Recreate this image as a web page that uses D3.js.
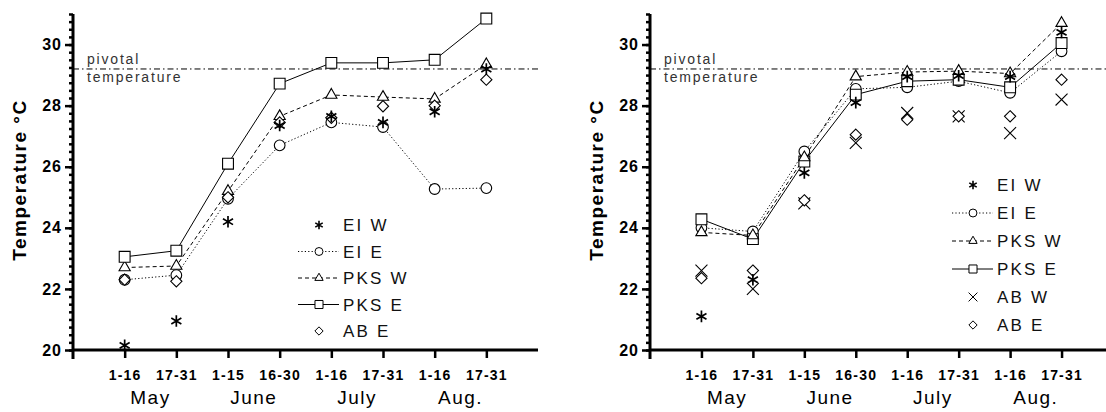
<!DOCTYPE html>
<html>
<head>
<meta charset="utf-8">
<script src="https://cdn.jsdelivr.net/npm/d3@7"></script>
<style>
  body { margin: 0; background: #fff; }
  svg { display: block; font-family: "Liberation Sans", Arial, sans-serif; }
</style>
</head>
<body>
<div id="chart"></div>
<script>
// half-month periods, May to August
const periods = ['1-16', '17-31', '1-15', '16-30', '1-16', '17-31', '1-16', '17-31'];
const months = ['May', 'June', 'July', 'Aug.'];
const yTicks = [20, 22, 24, 26, 28, 30];
const pivotalTemp = 29.2;

// left panel
const leftEIW  = [20.15, 20.95, 24.2, 27.35, 27.65, 27.45, 27.8, 29.2];
const leftEIE  = [22.3, 22.45, 24.95, 26.7, 27.45, 27.3, 25.27, 25.3];
const leftPKSW = [22.7, 22.75, 25.2, 27.65, 28.35, 28.28, 28.22, 29.35];
const leftPKSE = [23.05, 23.25, 26.1, 28.72, 29.4, 29.4, 29.5, 30.85];
const leftABE  = [22.3, 22.25, 25.0, 27.45, 27.6, 27.98, 28.0, 28.85];

// right panel
const rightEIW  = [21.1, 22.3, 25.8, 28.1, 28.95, 28.98, 28.95, 30.4];
const rightEIE  = [24.0, 23.88, 26.5, 28.55, 28.6, 28.8, 28.42, 29.78];
const rightPKSW = [23.85, 23.75, 26.3, 28.95, 29.1, 29.13, 29.05, 30.7];
const rightPKSE = [24.28, 23.63, 26.17, 28.36, 28.8, 28.85, 28.6, 30.05];
const rightABW  = [22.6, 22.0, 24.8, 26.78, 27.76, 27.65, 27.1, 28.2];
const rightABE  = [22.35, 22.6, 24.9, 27.05, 27.54, 27.65, 27.65, 28.85];

// marker + line style per site
const styles = {
  'EI W':  { symbol: d3.symbolAsterisk, size: 95, line: null },
  'EI E':  { symbol: d3.symbolCircle, size: 90, line: '1.2,2.2' },
  'PKS W': { symbol: d3.symbolTriangle2, size: 90, line: '4,3' },
  'PKS E': { symbol: d3.symbolSquare2, size: 150, line: '' },
  'AB W':  { symbol: d3.symbolX, size: 95, line: null },
  'AB E':  { symbol: d3.symbolDiamond2, size: 80, line: null }
};

const W = 1106, H = 412;
const svg = d3.select('#chart').append('svg')
  .attr('width', W).attr('height', H);

function drawPanel({ x0, x1, titleX, series, legend }) {
  const g = svg.append('g');
  const x = d3.scaleLinear().domain([0, 9]).range([x0, x1]);
  const y = d3.scaleLinear().domain([20, 31]).range([350, 14]);

  // pivotal temperature line
  g.append('line')
    .attr('x1', x0).attr('x2', Math.min(x1, W))
    .attr('y1', y(pivotalTemp)).attr('y2', y(pivotalTemp))
    .attr('stroke', '#000').attr('stroke-width', 1)
    .attr('stroke-dasharray', '6,3,1.5,3');
  g.append('text')
    .attr('x', x0 + 14).attr('y', y(pivotalTemp) - 5)
    .attr('font-size', 14).attr('letter-spacing', 1.8).attr('fill', '#333')
    .text('pivotal');
  g.append('text')
    .attr('x', x0 + 14).attr('y', y(pivotalTemp) + 13)
    .attr('font-size', 14).attr('letter-spacing', 1.8).attr('fill', '#333')
    .text('temperature');

  // series lines
  const line = d3.line().x((d, i) => x(i + 1)).y(d => y(d));
  series.forEach(s => {
    const st = styles[s.name];
    if (st.line === null) return;
    g.append('path')
      .attr('d', line(s.values))
      .attr('fill', 'none').attr('stroke', '#000').attr('stroke-width', 1)
      .attr('stroke-dasharray', st.line || null);
  });

  // markers
  series.forEach(s => {
    const st = styles[s.name];
    const sym = d3.symbol(st.symbol, st.size);
    g.append('g').selectAll('path')
      .data(s.values)
      .join('path')
      .attr('transform', (d, i) => `translate(${x(i + 1)},${y(d)})`)
      .attr('d', sym)
      .attr('fill', st.symbol === d3.symbolAsterisk ? 'none' : '#fff')
      .attr('stroke', '#000')
      .attr('stroke-width', st.symbol === d3.symbolAsterisk ? 1.7 : 1.1);
  });

  // y axis, minor ticks then major
  const minor = d3.range(20, 31.01, 0.25);
  g.append('g')
    .attr('transform', `translate(${x0},0)`)
    .call(d3.axisLeft(y).tickValues(minor).tickSize(4).tickSizeOuter(0).tickFormat(''))
    .call(a => a.select('.domain').remove())
    .call(a => a.selectAll('line').attr('stroke-width', 2.5));
  g.append('g')
    .attr('transform', `translate(${x0},0)`)
    .call(d3.axisLeft(y).tickValues(yTicks).tickSize(8).tickSizeOuter(0).tickPadding(3))
    .call(a => a.select('.domain').remove())
    .call(a => a.selectAll('line').attr('stroke-width', 2.5))
    .call(a => a.selectAll('text')
      .attr('font-size', 16).attr('font-weight', 'bold')
      .attr('letter-spacing', 1).attr('fill', '#000')
      .attr('font-family', '"Liberation Sans", Arial, sans-serif'));
  g.append('line')
    .attr('x1', x0).attr('x2', x0).attr('y1', y(31)).attr('y2', 359)
    .attr('stroke', '#000').attr('stroke-width', 3);

  // x axis
  g.append('g')
    .attr('transform', 'translate(0,350)')
    .call(d3.axisBottom(x).tickValues(d3.range(1, 9)).tickSize(8).tickSizeOuter(0)
      .tickPadding(12).tickFormat(i => periods[i - 1]))
    .call(a => a.select('.domain').attr('stroke-width', 3)
      .attr('d', `M${x0},0H${Math.min(x1, W)}`))
    .call(a => a.selectAll('line').attr('stroke-width', 2.5))
    .call(a => a.selectAll('text')
      .attr('font-size', 14).attr('font-weight', 'bold')
      .attr('letter-spacing', 1.2).attr('fill', '#000')
      .attr('font-family', '"Liberation Sans", Arial, sans-serif'));

  g.selectAll('text.month')
    .data(months)
    .join('text')
    .attr('class', 'month')
    .attr('x', (d, i) => x(2 * i + 1.5))
    .attr('y', 404)
    .attr('text-anchor', 'middle')
    .attr('font-size', 19).attr('letter-spacing', 1.5)
    .text(d => d);

  // axis title
  g.append('text')
    .attr('transform', `translate(${titleX},180) rotate(-90)`)
    .attr('text-anchor', 'middle')
    .attr('font-size', 19).attr('font-weight', 'bold').attr('letter-spacing', 1.5)
    .text('Temperature °C');

  // legend
  legend.items.forEach((name, k) => {
    const st = styles[name];
    const ly = legend.y + k * legend.dy;
    const lg = g.append('g');
    if (st.line !== null) {
      lg.append('line')
        .attr('x1', legend.x - 21).attr('x2', legend.x + 20)
        .attr('y1', ly).attr('y2', ly)
        .attr('stroke', '#000').attr('stroke-width', 1)
        .attr('stroke-dasharray', st.line || null);
    }
    lg.append('path')
      .attr('transform', `translate(${legend.x},${ly})`)
      .attr('d', d3.symbol(st.symbol, st.size * 0.55)())
      .attr('fill', st.symbol === d3.symbolAsterisk ? 'none' : '#fff')
      .attr('stroke', '#000')
      .attr('stroke-width', st.symbol === d3.symbolAsterisk ? 1.6 : 1);
    lg.append('text')
      .attr('x', legend.x + 24).attr('y', ly + 6)
      .attr('font-size', 17).attr('letter-spacing', 2.2).attr('fill', '#111')
      .text(name);
  });
}

drawPanel({
  x0: 73, x1: 538, titleX: 26,
  series: [
    { name: 'EI E', values: leftEIE },
    { name: 'PKS W', values: leftPKSW },
    { name: 'PKS E', values: leftPKSE },
    { name: 'AB E', values: leftABE },
    { name: 'EI W', values: leftEIW }
  ],
  legend: { x: 319, y: 225, dy: 26.5, items: ['EI W', 'EI E', 'PKS W', 'PKS E', 'AB E'] }
});

drawPanel({
  x0: 650, x1: 1113, titleX: 603,
  series: [
    { name: 'EI E', values: rightEIE },
    { name: 'PKS E', values: rightPKSE },
    { name: 'PKS W', values: rightPKSW },
    { name: 'AB W', values: rightABW },
    { name: 'AB E', values: rightABE },
    { name: 'EI W', values: rightEIW }
  ],
  legend: { x: 973, y: 185, dy: 28, items: ['EI W', 'EI E', 'PKS W', 'PKS E', 'AB W', 'AB E'] }
});
</script>
</body>
</html>
